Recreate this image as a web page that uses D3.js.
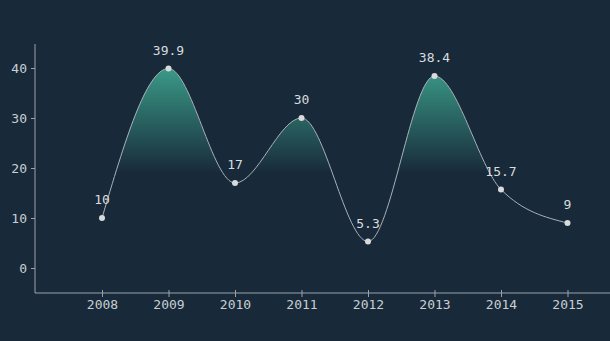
<!DOCTYPE html>
<html>
<head>
<meta charset="utf-8">
<script src="https://cdn.jsdelivr.net/npm/d3@7"></script>
<style>
  html, body { margin: 0; padding: 0; background: #182a3a; }
  svg { display: block; }
</style>
</head>
<body>
<svg id="chart" width="610" height="341"></svg>
<script>
const years = ["2008", "2009", "2010", "2011", "2012", "2013", "2014", "2015"];
const values = [10, 39.9, 17, 30, 5.3, 38.4, 15.7, 9];
const yTicks = [0, 10, 20, 30, 40];

const W = 610, H = 341;
const svg = d3.select("#chart");
const font = "'DejaVu Sans Mono', 'Liberation Mono', monospace";

const x = d3.scalePoint().domain(years).range([35.5, 634]).padding(1);
const y = d3.scaleLinear().domain([-5, 45]).range([293, 43]);

const data = years.map((yr, i) => ({ yr, v: values[i] }));

// vertical gradient: teal at the top fading out around 20
const defs = svg.append("defs");
const grad = defs.append("linearGradient")
  .attr("id", "fillGrad")
  .attr("gradientUnits", "userSpaceOnUse")
  .attr("x1", 0).attr("x2", 0)
  .attr("y1", y(40)).attr("y2", y(19));
grad.append("stop").attr("offset", "0%").attr("stop-color", "#3a9a88").attr("stop-opacity", 1);
grad.append("stop").attr("offset", "100%").attr("stop-color", "#3a9a88").attr("stop-opacity", 0);

const curve = d3.curveMonotoneX;

svg.append("path")
  .datum(data)
  .attr("fill", "url(#fillGrad)")
  .attr("d", d3.area().curve(curve).x(d => x(d.yr)).y0(y(-5)).y1(d => y(d.v)));

svg.append("path")
  .datum(data)
  .attr("fill", "none")
  .attr("stroke", "#a9b0b6")
  .attr("stroke-width", 1)
  .attr("d", d3.line().curve(curve).x(d => x(d.yr)).y(d => y(d.v)));

// axes
const axisColor = "#9aa3ab";
const yAxis = svg.append("g")
  .attr("transform", "translate(35,0)")
  .call(d3.axisLeft(y).tickValues(yTicks).tickSize(4).tickPadding(4));
yAxis.select(".domain").attr("d", `M0,${y(44.8)}V${y(-5)}`);

const xAxis = svg.append("g")
  .attr("transform", `translate(0,${y(-5)})`)
  .call(d3.axisBottom(x).tickSize(4).tickPadding(3));
xAxis.select(".domain").attr("d", `M35,0H${W}`);
xAxis.selectAll(".tick line").attr("y1", -3).attr("y2", 4);

[yAxis, xAxis].forEach(g => {
  g.select(".domain").attr("stroke", axisColor);
  g.selectAll(".tick line").attr("stroke", axisColor);
  g.selectAll(".tick text")
    .attr("fill", "#c9ced3")
    .style("font-family", font)
    .style("font-size", "13px");
});

// points and value labels
svg.selectAll("circle.pt")
  .data(data)
  .join("circle")
  .attr("class", "pt")
  .attr("cx", d => x(d.yr))
  .attr("cy", d => y(d.v))
  .attr("r", 3)
  .attr("fill", "#d8dadc");

svg.selectAll("text.lbl")
  .data(data)
  .join("text")
  .attr("class", "lbl")
  .attr("x", d => x(d.yr))
  .attr("y", d => y(d.v) - 14)
  .attr("text-anchor", "middle")
  .attr("fill", "#d8dcdf")
  .style("font-family", font)
  .style("font-size", "13px")
  .text(d => d.v);
</script>
</body>
</html>
